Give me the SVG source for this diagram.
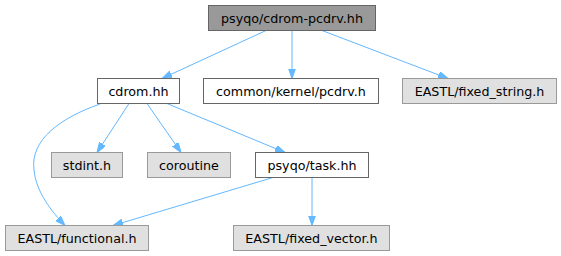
<svg xmlns="http://www.w3.org/2000/svg" width="561" height="256" viewBox="0 0 561 256">
<style>
.n rect{stroke-width:1}
.w rect{fill:#ffffff;stroke:#666666}
.g rect{fill:#e0e0e0;stroke:#999999}
.r rect{fill:#999999;stroke:#666666}
text{font-family:"DejaVu Sans",sans-serif;font-size:12.7px;fill:#000000;text-anchor:middle}
#edges path{fill:none;stroke:#63b8ff;stroke-width:1;marker-end:url(#ah)}
</style>
<defs>
<marker id="ah" markerUnits="userSpaceOnUse" markerWidth="11" markerHeight="8" refX="10" refY="3.5" orient="auto">
<path d="M0,0 L10,3.5 L0,7 z" fill="#63b8ff" stroke="#63b8ff" stroke-width="1"/>
</marker>
</defs>
<g id="edges">
<path d="M266,30.5 L162,78.5"/>
<path d="M292,30.5 L292,78.5"/>
<path d="M322,30.5 L448,78.5"/>
<path d="M129,103.5 L97,152.5"/>
<path d="M147,103.5 L181,152.5"/>
<path d="M167,103.5 L285,152.5"/>
<path d="M100,104 C60,118 30,140 34,170 C36,192 52,212 65,225.5"/>
<path d="M273,177.5 L113,225.5"/>
<path d="M312,177.5 L312,225.5"/>
</g>
<g id="n0" class="n r"><rect x="208.5" y="5.5" width="167" height="25"/><text x="292" y="22.5">psyqo/cdrom-pcdrv.hh</text></g>
<g id="n1" class="n w"><rect x="97.5" y="78.5" width="82" height="25"/><text x="138.5" y="95.5">cdrom.hh</text></g>
<g id="n2" class="n w"><rect x="203.5" y="78.5" width="175" height="25"/><text x="291" y="95.5">common/kernel/pcdrv.h</text></g>
<g id="n3" class="n g"><rect x="402.5" y="78.5" width="154" height="25"/><text x="479.5" y="95.5">EASTL/fixed_string.h</text></g>
<g id="n4" class="n g"><rect x="51.5" y="152.5" width="71" height="25"/><text x="87" y="169.5">stdint.h</text></g>
<g id="n5" class="n g"><rect x="147.5" y="152.5" width="83" height="25"/><text x="189" y="169.5">coroutine</text></g>
<g id="n6" class="n w"><rect x="255.5" y="152.5" width="113" height="25"/><text x="312" y="169.5">psyqo/task.hh</text></g>
<g id="n7" class="n g"><rect x="5.5" y="225.5" width="143" height="25"/><text x="77" y="242.5">EASTL/functional.h</text></g>
<g id="n8" class="n g"><rect x="233.5" y="225.5" width="156" height="25"/><text x="311.5" y="242.5">EASTL/fixed_vector.h</text></g>
</svg>
